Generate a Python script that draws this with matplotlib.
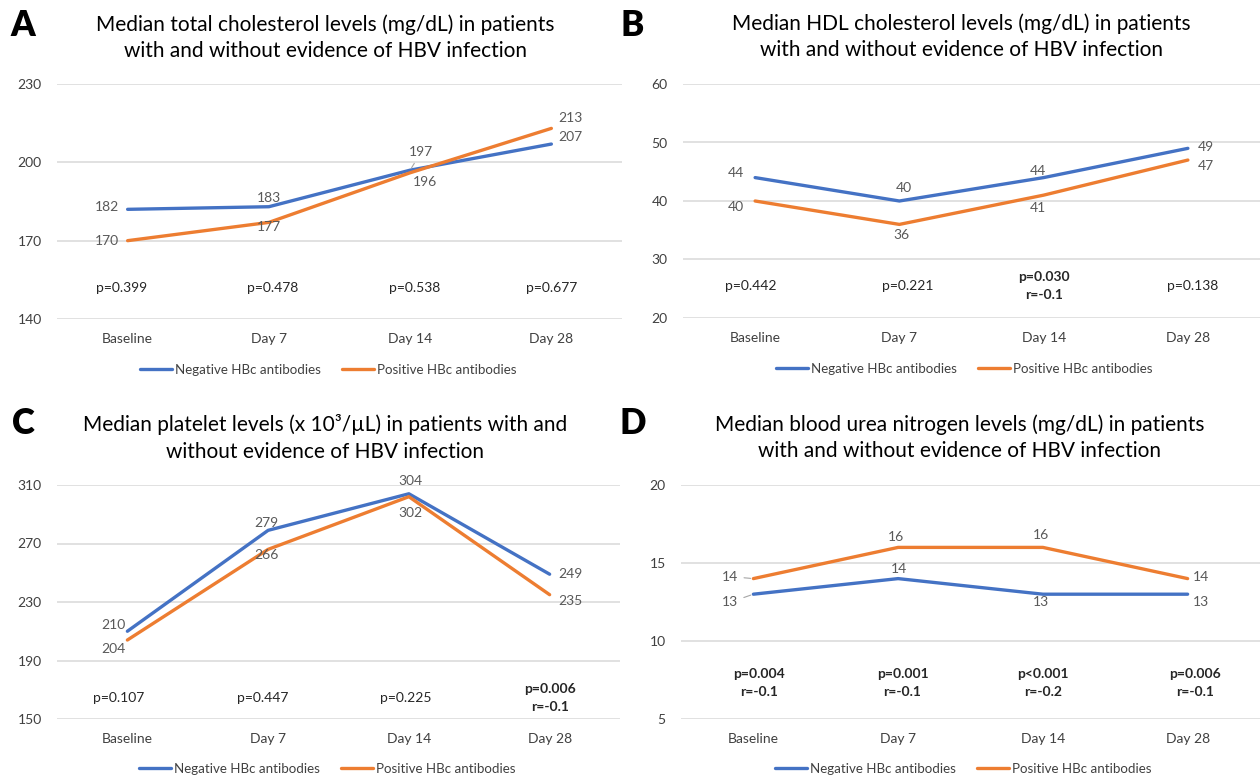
import matplotlib
matplotlib.use("Agg")
import matplotlib.pyplot as plt

plt.rcParams['font.family'] = ['Lato', 'DejaVu Sans']

categories = ["Baseline", "Day 7", "Day 14", "Day 28"]
series_names = ["Negative HBc antibodies", "Positive HBc antibodies"]

# Panel A: total cholesterol
a_neg = [182, 183, 197, 207]
a_pos = [170, 177, 196, 213]
a_pvals = ["p=0.399", "p=0.478", "p=0.538", "p=0.677"]
a_bold = [False, False, False, False]

# Panel B: HDL cholesterol
b_neg = [44, 40, 44, 49]
b_pos = [40, 36, 41, 47]
b_pvals = ["p=0.442", "p=0.221", "p=0.030\nr=-0.1", "p=0.138"]
b_bold = [False, False, True, False]

# Panel C: platelets
c_neg = [210, 279, 304, 249]
c_pos = [204, 266, 302, 235]
c_pvals = ["p=0.107", "p=0.447", "p=0.225", "p=0.006\nr=-0.1"]
c_bold = [False, False, False, True]

# Panel D: BUN
d_neg = [13, 14, 13, 13]
d_pos = [14, 16, 16, 14]
d_pvals = ["p=0.004\nr=-0.1", "p=0.001\nr=-0.1", "p<0.001\nr=-0.2", "p=0.006\nr=-0.1"]
d_bold = [True, True, True, True]

titles = [
    "Median total cholesterol levels (mg/dL) in patients\nwith and without evidence of HBV infection",
    "Median HDL cholesterol levels (mg/dL) in patients\nwith and without evidence of HBV infection",
    "Median platelet levels (x 10\u00b3/\u00b5L) in patients with and\nwithout evidence of HBV infection",
    "Median blood urea nitrogen levels (mg/dL) in patients\nwith and without evidence of HBV infection",
]
letters = ["A", "B", "C", "D"]
yticks_list = [[140, 170, 200, 230], [20, 30, 40, 50, 60], [150, 190, 230, 270, 310], [5, 10, 15, 20]]

BLUE = "#4472C4"
ORANGE = "#ED7D31"
W, H = 1260, 778

fig = plt.figure(figsize=(12.6, 7.78), dpi=100)

def rect(x0, x1, ytop, ybot):
    return [x0 / W, 1 - ybot / H, (x1 - x0) / W, (ybot - ytop) / H]

panels = [
    dict(rect=rect(57, 622, 84, 319), neg=a_neg, pos=a_pos, pv=a_pvals, bold=a_bold,
         pv_y=152, pv_dx=[-0.04, 0.03, 0.03, 0.0],
         neg_off=[(-21, 2), (0, 9), (11, 18), (19, 7)],
         pos_off=[(-21, 0), (0, -5), (15, -9), (19, 10)],
         neg_leader=[False, False, True, False], pos_leader=[False] * 4,
         title_xy=(325, 38), letter_xy=(23, 25), leg_xy=(328, 370)),
    dict(rect=rect(683, 1260, 84, 318), neg=b_neg, pos=b_pos, pv=b_pvals, bold=b_bold,
         pv_y=25.5, pv_dx=[-0.03, 0.06, 0.0, 0.03],
         neg_off=[(-19, 5), (4, 13), (-6, 7), (18, 1)],
         pos_off=[(-19, -6), (2, -11), (-6, -13), (18, -6)],
         neg_leader=[False] * 4, pos_leader=[False] * 4,
         title_xy=(961, 37), letter_xy=(632, 25), leg_xy=(964, 369)),
    dict(rect=rect(57, 620, 485, 719), neg=c_neg, pos=c_pos, pv=c_pvals, bold=c_bold,
         pv_y=164.5, pv_dx=[-0.06, -0.04, -0.02, 0.0],
         neg_off=[(-14, 6), (-2, 7), (2, 13), (21, 0)],
         pos_off=[(-14, -9), (-2, -6), (2, -16), (21, -6)],
         neg_leader=[False] * 4, pos_leader=[False] * 4,
         title_xy=(325, 438), letter_xy=(23, 424), leg_xy=(327, 769)),
    dict(rect=rect(681, 1260, 485, 719), neg=d_neg, pos=d_pos, pv=d_pvals, bold=d_bold,
         pv_y=7.3, pv_dx=[0.04, 0.03, 0.0, 0.05],
         neg_off=[(-23, -8), (1, 10), (-2, -8), (13, -8)],
         pos_off=[(-23, 2), (-2, 10), (-2, 12), (13, 2)],
         neg_leader=[True, False, False, False], pos_leader=[True, False, False, False],
         title_xy=(960, 438), letter_xy=(633, 424), leg_xy=(963, 769)),
]

x = list(range(len(categories)))

for i, p in enumerate(panels):
    ax = fig.add_axes(p["rect"])
    yt = yticks_list[i]
    ax.set_xlim(-0.5, len(categories) - 0.5)
    ax.set_ylim(yt[0], yt[-1])
    ax.set_yticks(yt)
    ax.set_xticks(x)
    ax.set_xticklabels(categories)
    for s in ax.spines.values():
        s.set_visible(False)
    ax.grid(axis="y", color="#D9D9D9", lw=1.1)
    ax.set_axisbelow(True)
    ax.tick_params(axis="both", length=0, labelsize=10, labelcolor="#404040")
    ax.tick_params(axis="y", pad=11)
    ax.tick_params(axis="x", pad=10)

    l1, = ax.plot(x, p["neg"], color=BLUE, lw=2.4, solid_capstyle="round", zorder=3)
    l2, = ax.plot(x, p["pos"], color=ORANGE, lw=2.4, solid_capstyle="round", zorder=3)

    for vals, offs, leads in [(p["neg"], p["neg_off"], p["neg_leader"]),
                              (p["pos"], p["pos_off"], p["pos_leader"])]:
        for xi, v, off, lead in zip(x, vals, offs, leads):
            kw = {}
            if lead:
                kw["arrowprops"] = dict(arrowstyle="-", color="#A6A6A6", lw=0.8,
                                        shrinkA=2, shrinkB=2)
            ax.annotate(str(v), xy=(xi, v), xytext=off, textcoords="offset pixels",
                        ha="center", va="center", fontsize=10, color="#595959",
                        zorder=4, **kw)

    for xi, txt, b, dx in zip(x, p["pv"], p["bold"], p["pv_dx"]):
        ax.text(xi + dx, p["pv_y"], txt, ha="center", va="center", fontsize=10,
                color="#262626", fontweight="bold" if b else "normal",
                linespacing=1.6)

    tx, ty = p["title_xy"]
    fig.text(tx / W, 1 - ty / H, titles[i], ha="center", va="center",
             fontsize=15, color="#000000", linespacing=1.4)
    lx, ly = p["letter_xy"]
    fig.text(lx / W, 1 - ly / H, letters[i], ha="center", va="center",
             fontsize=25, fontweight="heavy", color="#000000")

    gx, gy = p["leg_xy"]
    fig.legend([l1, l2], series_names, loc="center",
               bbox_to_anchor=(gx / W, 1 - gy / H),
               ncol=2, frameon=False, fontsize=9.6, handlelength=2.4,
               handletextpad=0.2, columnspacing=1.6, labelcolor="#404040")

fig.savefig("out.png", dpi=100, facecolor="white")
